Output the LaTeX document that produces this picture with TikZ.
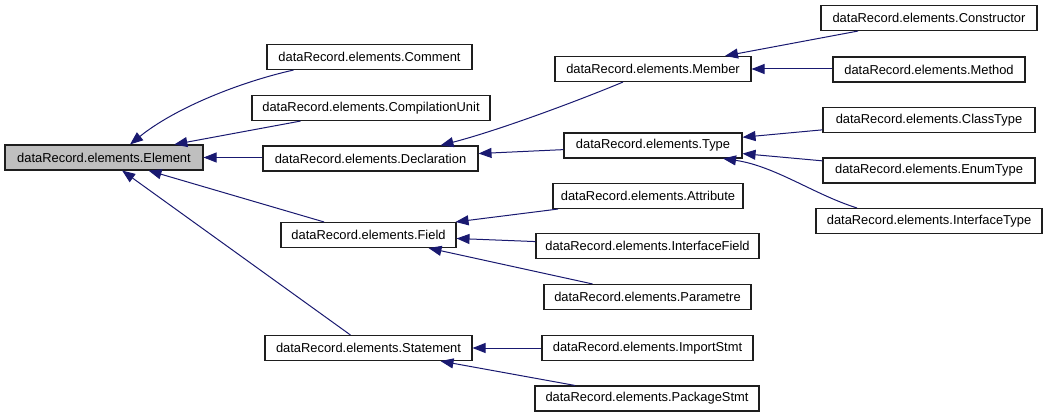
\documentclass[tikz,border=0pt]{standalone}
\usepackage{fontspec}
\setmainfont{Liberation Sans}
\usetikzlibrary{
  positioning,
  arrows.meta,
  calc
}
\definecolor{edgecolor}{RGB}{25,25,112}
\definecolor{basefill}{RGB}{191,191,191}
\definecolor{boxline}{RGB}{30,30,30}
\tikzset{
  classbox/.style={
    rectangle,
    draw=boxline,
    line width=1.1pt,
    fill=white,
    minimum width=#1,
    minimum height=25pt,
    inner sep=0pt,
    font=\fontsize{12.9}{14}\selectfont
  },
  basebox/.style={
    classbox=#1,
    fill=basefill
  },
  inherit/.style={
    -{Triangle[length=13pt,width=10pt]},
    line width=1pt,
    color=edgecolor
  }
}

\begin{document}
\begin{tikzpicture}[x=1pt,y=1pt]
  \useasboundingbox (0,0) rectangle (1048,-417);

  % Base class
  \node[basebox=198pt] (element) at (104,-157.5) {dataRecord.elements.Element};

  % Direct subclasses
  \node[classbox=205pt] (comment) at (369.5,-57) {dataRecord.elements.Comment};
  \node[classbox=238pt] (compunit) at (371,-108) {dataRecord.elements.CompilationUnit};
  \node[classbox=215pt] (declaration) at (370.5,-158.5) {dataRecord.elements.Declaration};
  \node[classbox=175pt] (field) at (368.5,-235) {dataRecord.elements.Field};
  \node[classbox=207pt] (statement) at (368.5,-348) {dataRecord.elements.Statement};

  % Declaration branch
  \node[classbox=196pt] (member) at (653,-69) {dataRecord.elements.Member};
  \node[classbox=178pt] (type) at (653,-145.5) {dataRecord.elements.Type};
  \node[classbox=216pt] (constructor) at (929,-18) {dataRecord.elements.Constructor};
  \node[classbox=192pt] (method) at (929,-69.5) {dataRecord.elements.Method};
  \node[classbox=212pt] (classtype) at (929,-120) {dataRecord.elements.ClassType};
  \node[classbox=212pt] (enumtype) at (929,-170.5) {dataRecord.elements.EnumType};
  \node[classbox=226pt] (ifacetype) at (929,-221) {dataRecord.elements.InterfaceType};

  % Field branch
  \node[classbox=190pt] (attribute) at (648,-196) {dataRecord.elements.Attribute};
  \node[classbox=223pt] (ifacefield) at (647.5,-246) {dataRecord.elements.InterfaceField};
  \node[classbox=207pt] (parametre) at (647.5,-297) {dataRecord.elements.Parametre};

  % Statement branch
  \node[classbox=211pt] (importstmt) at (647.5,-348) {dataRecord.elements.ImportStmt};
  \node[classbox=224pt] (packagestmt) at (647,-398.5) {dataRecord.elements.PackageStmt};

  % Inheritance towards Element
  \draw[inherit] ([xshift=-76pt]comment.south) .. controls (240,-82) and (175,-108) .. ([xshift=26pt]element.north);
  \draw[inherit] (compunit) -- (element);
  \draw[inherit] (declaration.west |- element.east) -- (element.east);
  \draw[inherit] (field) -- (element);
  \draw[inherit] (statement) -- (element);

  % Inheritance towards Declaration
  \draw[inherit] ([xshift=-30pt]member.south) .. controls (580,-100) and (500,-130) .. ([xshift=70pt]declaration.north);
  \draw[inherit] (type) -- (declaration);

  % Inheritance towards Member
  \draw[inherit] ([xshift=-71pt]constructor.south) -- ([xshift=72pt]member.north);
  \draw[inherit] (method.west |- member.east) -- (member.east);

  % Inheritance towards Type
  \draw[inherit] (classtype) -- (type);
  \draw[inherit] (enumtype) -- (type);
  \draw[inherit] ([xshift=-72pt]ifacetype.north) .. controls (815,-195) and (775,-166) .. ([xshift=70pt]type.south);

  % Inheritance towards Field
  \draw[inherit] ([xshift=-90pt]attribute.south) -- ([xshift=-1pt]field.north east);
  \draw[inherit] (ifacefield) -- (field);
  \draw[inherit] ([xshift=-55pt]parametre.north) -- ([xshift=60pt]field.south);

  % Inheritance towards Statement
  \draw[inherit] (importstmt) -- (statement);
  \draw[inherit] ([xshift=-72pt]packagestmt.north) -- ([xshift=72pt]statement.south);

\end{tikzpicture}
\end{document}
